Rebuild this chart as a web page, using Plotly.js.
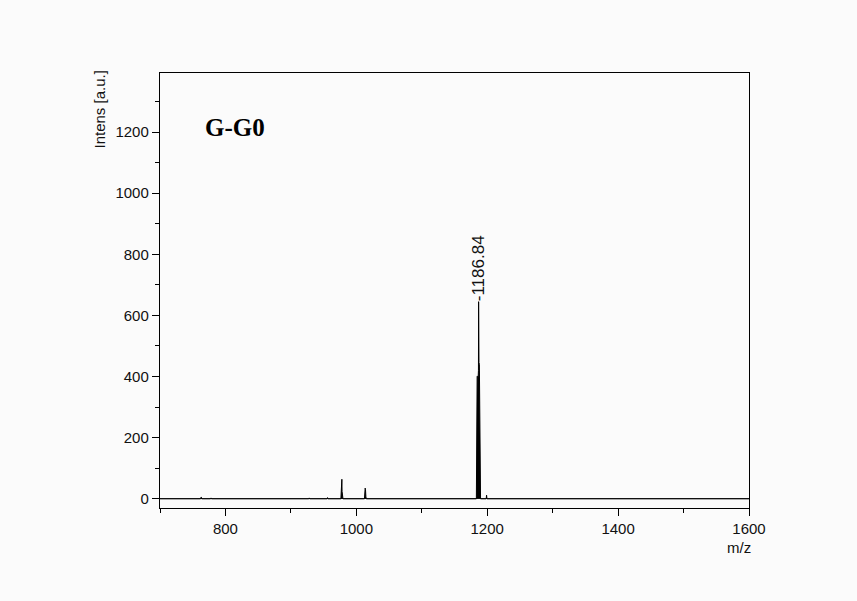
<!DOCTYPE html>
<html>
<head>
<meta charset="utf-8">
<script src="https://cdn.plot.ly/plotly-3.0.1.min.js"></script>
<style>html,body{margin:0;padding:0;background:#fbfbfb;}#chart{width:857px;height:601px;}</style>
</head>
<body>
<div id="chart"></div>
<script>
// Mass spectrum profile (m/z vs intensity)
const mz = [700, 762, 762.6, 763.2, 763.8, 777.4, 778, 778.6, 927.4, 928, 928.6,
            955.4, 956, 956.6, 976.4, 976.8, 977.4, 977.9, 978.2, 978.6, 979.2, 979.6,
            1012.4, 1012.9, 1013.5, 1014, 1014.6, 1015.1,
            1183.4, 1183.8, 1184.6, 1185.4, 1186.2, 1186.6, 1186.84, 1187.1, 1187.4, 1188.0, 1188.5, 1188.8, 1189.4, 1189.8,
            1198.4, 1199, 1199.6, 1445.5, 1446, 1446.5, 1600];
const intens = [0, 0, 5, 5, 0, 0, 3, 0, 0, 3, 0,
                0, 4, 0, 0, 22, 24, 64, 24, 20, 8, 0,
                0, 18, 35, 30, 8, 0,
                0, 395, 400, 402, 400, 420, 645, 446, 446, 440, 300, 62, 55, 0,
                0, 12, 0, 0, 2, 0, 0];

const peakLabelX = [1186.84];
const peakLabelY = [645];
const peakLabelText = ['-1186.84'];

const xTicks = [800, 1000, 1200, 1400, 1600];
const yTicks = [0, 200, 400, 600, 800, 1000, 1200];

const data = [{
  x: mz, y: intens, type: 'scatter', mode: 'lines',
  line: {color: '#000', width: 1}, fill: 'tozeroy', fillcolor: '#000',
  hoverinfo: 'x+y'
}];

const annotations = peakLabelX.map((x, i) => ({
  x: x, y: peakLabelY[i], xref: 'x', yref: 'y', text: peakLabelText[i],
  showarrow: false, textangle: -90, xanchor: 'center', yanchor: 'bottom', yshift: -2,
  font: {family: 'Liberation Sans, Arial, sans-serif', size: 17, color: '#111'}
}));
annotations.push({
  x: 0.073, y: 0.875, xref: 'paper', yref: 'paper', text: '<b>G-G0</b>', showarrow: false,
  xanchor: 'left', yanchor: 'middle',
  font: {family: 'Liberation Serif, Times New Roman, serif', size: 25, color: '#000'}
});
annotations.push({
  x: 0, y: 1, xref: 'paper', yref: 'paper', text: 'Intens [a.u.]', showarrow: false,
  textangle: -90, xanchor: 'right', yanchor: 'top', xshift: -51, yshift: 4,
  font: {family: 'Liberation Sans, Arial, sans-serif', size: 15, color: '#111'}
});
annotations.push({
  x: 1, y: 0, xref: 'paper', yref: 'paper', text: 'm/z', showarrow: false,
  xanchor: 'center', yanchor: 'top', xshift: -10, yshift: -29,
  font: {family: 'Liberation Sans, Arial, sans-serif', size: 15, color: '#111'}
});

const layout = {
  width: 857, height: 601,
  paper_bgcolor: '#fbfbfb', plot_bgcolor: '#fbfbfb',
  margin: {l: 160, r: 108, t: 73, b: 93},
  showlegend: false,
  font: {family: 'Liberation Sans, Arial, sans-serif', size: 15, color: '#111'},
  xaxis: {
    range: [700, 1600], tickvals: xTicks, ticktext: xTicks.map(String),
    ticks: 'outside', ticklen: 7, tickwidth: 1, tickcolor: '#000',
    tickfont: {size: 15, color: '#111'},
    minor: {dtick: 100, ticks: 'outside', ticklen: 4, tickcolor: '#000', showgrid: false},
    showline: true, linecolor: '#000', linewidth: 1.2, mirror: true,
    showgrid: false, zeroline: false
  },
  yaxis: {
    range: [-30, 1393], tickvals: yTicks, ticktext: yTicks.map(String),
    ticks: 'outside', ticklen: 7, tickwidth: 1, tickcolor: '#000',
    tickfont: {size: 15, color: '#111'},
    minor: {dtick: 100, ticks: 'outside', ticklen: 4, tickcolor: '#000', showgrid: false},
    showline: true, linecolor: '#000', linewidth: 1.2, mirror: true,
    showgrid: false, zeroline: true, zerolinecolor: '#333', zerolinewidth: 1
  },
  annotations: annotations
};

Plotly.newPlot('chart', data, layout, {displayModeBar: false, staticPlot: true});
</script>
</body>
</html>
